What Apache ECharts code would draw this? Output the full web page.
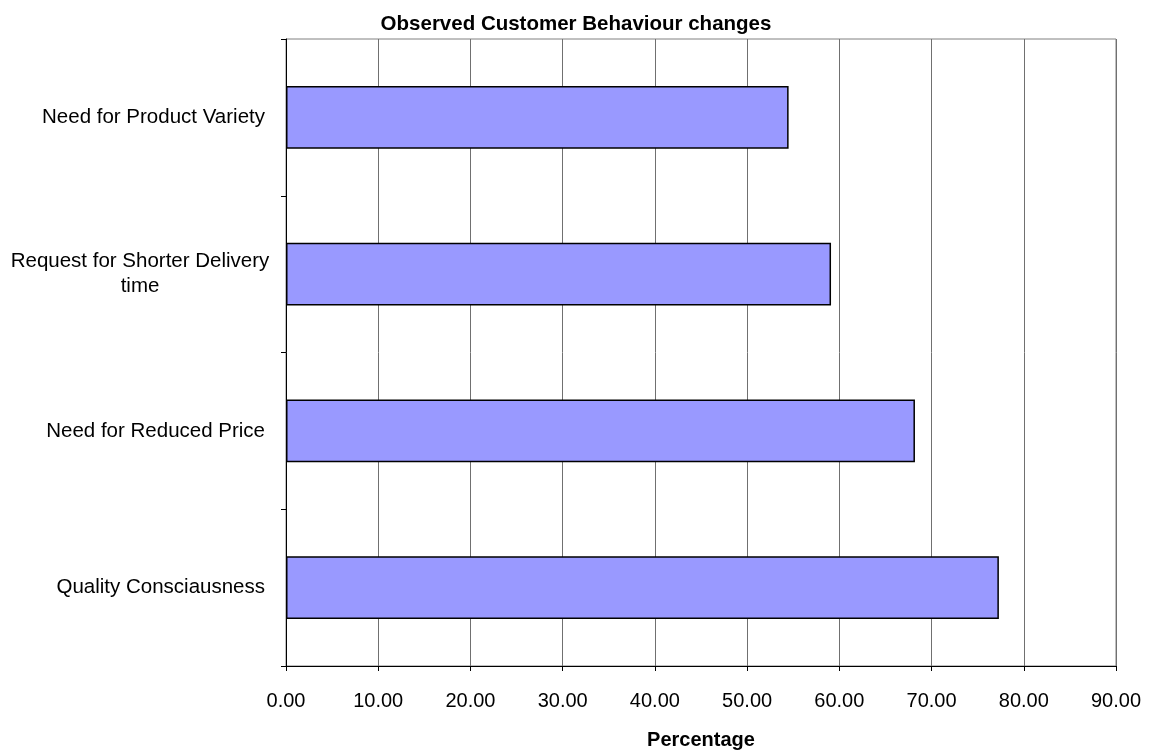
<!DOCTYPE html>
<html>
<head>
<meta charset="utf-8">
<script src="https://cdn.jsdelivr.net/npm/echarts@6/dist/echarts.min.js"></script>
<style>
  html, body {margin: 0; padding: 0; background: #fff;}
  #chart {width: 1152px; height: 755px;}
</style>
</head>
<body>
<div id="chart"></div>
<script>
// bottom to top, as the category axis draws them
const categories = ['Quality Consciausness', 'Need for Reduced Price', 'Request for Shorter Delivery\ntime', 'Need for Product Variety']
const percentages = [77.3, 68.2, 59.1, 54.5]
const xMin = 0
const xMax = 90
const xStep = 10

const font = 'Liberation Sans, Arial, sans-serif'

const chart = echarts.init(document.getElementById('chart'))

chart.setOption({
  animation: false,
  title: {
    text: 'Observed Customer Behaviour changes',
    left: 'center',
    top: 9,
    textStyle: {fontFamily: font, fontSize: 20.5, fontWeight: 'bold', color: '#000'}
  },
  grid: {
    left: 286,
    right: 36,
    top: 39,
    bottom: 86,
    show: true,
    borderColor: '#808080',
    borderWidth: 1
  },
  xAxis: {
    type: 'value',
    min: xMin,
    max: xMax,
    interval: xStep,
    name: 'Percentage',
    nameLocation: 'middle',
    nameGap: 64,
    nameTextStyle: {fontFamily: font, fontSize: 20, fontWeight: 'bold', color: '#000'},
    axisLine: {show: true, lineStyle: {color: '#000', width: 1}},
    axisTick: {show: true, length: 5, lineStyle: {color: '#000'}},
    axisLabel: {
      margin: 25,
      fontFamily: font,
      fontSize: 20,
      color: '#000',
      formatter: v => v.toFixed(2)
    },
    splitLine: {show: true, lineStyle: {color: '#707070', width: 1}}
  },
  yAxis: {
    type: 'category',
    data: categories,
    axisLine: {show: true, lineStyle: {color: '#000', width: 1}},
    axisTick: {show: true, length: 5, lineStyle: {color: '#000'}},
    axisLabel: {
      margin: 21,
      fontFamily: font,
      fontSize: 20.5,
      color: '#000',
      formatter: v => v.indexOf('\n') < 0 ? v : v.split('\n').map(s => '{c|' + s + '}').join('\n'),
      rich: {
        c: {width: 250, align: 'center', fontFamily: font, fontSize: 20.5, color: '#000', lineHeight: 25}
      }
    },
    splitLine: {show: false}
  },
  series: [{
    type: 'bar',
    data: percentages,
    barWidth: '40%',
    itemStyle: {color: '#9999ff', borderColor: '#000', borderWidth: 1.5}
  }]
})
</script>
</body>
</html>
